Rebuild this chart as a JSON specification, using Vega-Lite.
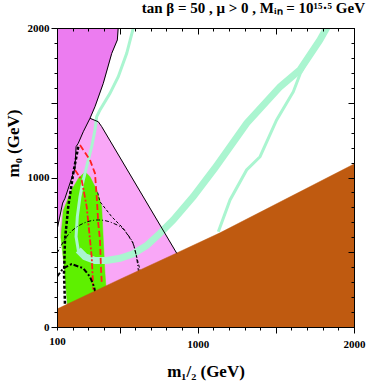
{
  "$schema": "https://vega.github.io/schema/vega-lite/v6.json",
  "width": 297,
  "height": 299,
  "autosize": "none",
  "padding": {"left": 57, "top": 28, "right": 12, "bottom": 55},
  "background": "white",
  "title": {"text": "tan β = 50 ,  μ > 0 , Mᵢₙ = 10¹⁵·⁵ GeV", "anchor": "end", "font": "Liberation Serif", "fontSize": 15, "fontWeight": "bold", "color": "black", "offset": 6},
  "config": {
    "view": {"stroke": "black", "strokeWidth": 1},
    "axis": {"domainColor": "black", "tickColor": "black", "labelColor": "black", "titleColor": "black", "labelFont": "Liberation Serif", "titleFont": "Liberation Serif", "labelFontWeight": "bold", "titleFontWeight": "bold", "labelFontSize": 11, "titleFontSize": 17, "grid": false, "tickWidth": 1, "domainWidth": 1}
  },
  "data": {"values": [
    {"s":"magenta","i":0,"x":100,"y":2000},{"s":"magenta","i":1,"x":492,"y":2000},{"s":"magenta","i":2,"x":486,"y":1920},{"s":"magenta","i":3,"x":450,"y":1830},{"s":"magenta","i":4,"x":396,"y":1630},{"s":"magenta","i":5,"x":343,"y":1474},{"s":"magenta","i":6,"x":311,"y":1396},{"s":"magenta","i":7,"x":268,"y":1306},{"s":"magenta","i":8,"x":236,"y":1229},{"s":"magenta","i":9,"x":222,"y":1206},{"s":"magenta","i":10,"x":215,"y":1062},{"s":"magenta","i":11,"x":151,"y":861},{"s":"magenta","i":12,"x":136,"y":829},{"s":"magenta","i":13,"x":100,"y":649},
    {"s":"pink","i":0,"x":311,"y":1396},{"s":"pink","i":1,"x":364,"y":1373},{"s":"pink","i":2,"x":386,"y":1340},{"s":"pink","i":3,"x":866,"y":493},{"s":"pink","i":4,"x":880,"y":400},{"s":"pink","i":5,"x":420,"y":200},{"s":"pink","i":6,"x":170,"y":100},{"s":"pink","i":7,"x":145,"y":415},{"s":"pink","i":8,"x":119,"y":649},{"s":"pink","i":9,"x":136,"y":829},{"s":"pink","i":10,"x":151,"y":861},{"s":"pink","i":11,"x":215,"y":1062},{"s":"pink","i":12,"x":222,"y":1206},{"s":"pink","i":13,"x":236,"y":1229},{"s":"pink","i":14,"x":268,"y":1306},
    {"s":"green","i":0,"x":279,"y":1039},{"s":"green","i":1,"x":311,"y":1005},{"s":"green","i":2,"x":354,"y":916},{"s":"green","i":3,"x":386,"y":805},{"s":"green","i":4,"x":396,"y":582},{"s":"green","i":5,"x":407,"y":359},{"s":"green","i":6,"x":418,"y":200},{"s":"green","i":7,"x":170,"y":100},{"s":"green","i":8,"x":145,"y":415},{"s":"green","i":9,"x":125,"y":600},{"s":"green","i":10,"x":140,"y":780},{"s":"green","i":11,"x":190,"y":910},{"s":"green","i":12,"x":240,"y":1000},
    {"s":"brown","i":0,"x":100,"y":0},{"s":"brown","i":1,"x":100,"y":120},{"s":"brown","i":2,"x":500,"y":318},{"s":"brown","i":3,"x":866,"y":495},{"s":"brown","i":4,"x":1143,"y":630},{"s":"brown","i":5,"x":2000,"y":1090},{"s":"brown","i":6,"x":2000,"y":0},
    {"s":"cyanThin","i":0,"x":588,"y":2000},{"s":"cyanThin","i":1,"x":546,"y":1831},{"s":"cyanThin","i":2,"x":492,"y":1674},{"s":"cyanThin","i":3,"x":439,"y":1563},{"s":"cyanThin","i":4,"x":375,"y":1452},{"s":"cyanThin","i":5,"x":354,"y":1407},{"s":"cyanThin","i":6,"x":343,"y":1318},{"s":"cyanThin","i":7,"x":322,"y":1206},{"s":"cyanThin","i":8,"x":300,"y":1117},{"s":"cyanThin","i":9,"x":268,"y":983},{"s":"cyanThin","i":10,"x":247,"y":872},{"s":"cyanThin","i":11,"x":230,"y":738},{"s":"cyanThin","i":12,"x":222,"y":604},{"s":"cyanThin","i":13,"x":236,"y":515},{"s":"cyanThin","i":14,"x":279,"y":470},
    {"s":"cyanBand","i":0,"x":236,"y":515},{"s":"cyanBand","i":1,"x":279,"y":470},{"s":"cyanBand","i":2,"x":343,"y":445},{"s":"cyanBand","i":3,"x":418,"y":445},{"s":"cyanBand","i":4,"x":503,"y":460},{"s":"cyanBand","i":5,"x":588,"y":490},{"s":"cyanBand","i":6,"x":674,"y":545},{"s":"cyanBand","i":7,"x":759,"y":627},{"s":"cyanBand","i":8,"x":844,"y":716},{"s":"cyanBand","i":9,"x":972,"y":872},{"s":"cyanBand","i":10,"x":1111,"y":1064},{"s":"cyanBand","i":11,"x":1314,"y":1363},{"s":"cyanBand","i":12,"x":1527,"y":1607},{"s":"cyanBand","i":13,"x":1654,"y":1719},{"s":"cyanBand","i":14,"x":1782,"y":1920},{"s":"cyanBand","i":15,"x":1830,"y":2010},
    {"s":"cyan2","i":0,"x":1132,"y":637},{"s":"cyan2","i":1,"x":1207,"y":850},{"s":"cyan2","i":2,"x":1313,"y":1050},{"s":"cyan2","i":3,"x":1399,"y":1139},{"s":"cyan2","i":4,"x":1505,"y":1385},{"s":"cyan2","i":5,"x":1612,"y":1574},{"s":"cyan2","i":6,"x":1654,"y":1690},{"s":"cyan2","i":7,"x":1690,"y":1760},
    {"s":"redA","i":0,"x":247,"y":1217},{"s":"redA","i":1,"x":311,"y":1117},{"s":"redA","i":2,"x":343,"y":1028},{"s":"redA","i":3,"x":354,"y":872},{"s":"redA","i":4,"x":364,"y":694},{"s":"redA","i":5,"x":375,"y":582},{"s":"redA","i":6,"x":381,"y":403},{"s":"redA","i":7,"x":386,"y":300},
    {"s":"redB","i":0,"x":215,"y":1050},{"s":"redB","i":1,"x":258,"y":983},{"s":"redB","i":2,"x":290,"y":805},{"s":"redB","i":3,"x":307,"y":627},{"s":"redB","i":4,"x":322,"y":470},{"s":"redB","i":5,"x":332,"y":250},
    {"s":"blkDot","i":0,"x":236,"y":1206},{"s":"blkDot","i":1,"x":204,"y":1028},{"s":"blkDot","i":2,"x":172,"y":805},{"s":"blkDot","i":3,"x":151,"y":582},{"s":"blkDot","i":4,"x":145,"y":359},{"s":"blkDot","i":5,"x":151,"y":150},
    {"s":"blkArc","i":0,"x":100,"y":493},{"s":"blkArc","i":1,"x":162,"y":604},{"s":"blkArc","i":2,"x":247,"y":682},{"s":"blkArc","i":3,"x":364,"y":716},{"s":"blkArc","i":4,"x":460,"y":694},{"s":"blkArc","i":5,"x":546,"y":627},{"s":"blkArc","i":6,"x":599,"y":515},{"s":"blkArc","i":7,"x":620,"y":381},{"s":"blkArc","i":8,"x":625,"y":330},
    {"s":"blkDash","i":0,"x":360,"y":900},{"s":"blkDash","i":1,"x":375,"y":838},{"s":"blkDash","i":2,"x":450,"y":738},{"s":"blkDash","i":3,"x":524,"y":660},{"s":"blkDash","i":4,"x":588,"y":560},{"s":"blkDash","i":5,"x":631,"y":381},{"s":"blkDash","i":6,"x":640,"y":330},
    {"s":"blkSmall","i":0,"x":100,"y":336},{"s":"blkSmall","i":1,"x":140,"y":393},{"s":"blkSmall","i":2,"x":194,"y":421},{"s":"blkSmall","i":3,"x":268,"y":393},{"s":"blkSmall","i":4,"x":311,"y":336},{"s":"blkSmall","i":5,"x":337,"y":270},{"s":"blkSmall","i":6,"x":345,"y":230},
    {"s":"edgeMag","i":0,"x":492,"y":2010},{"s":"edgeMag","i":1,"x":486,"y":1920},{"s":"edgeMag","i":2,"x":450,"y":1830},{"s":"edgeMag","i":3,"x":396,"y":1630},{"s":"edgeMag","i":4,"x":343,"y":1474},{"s":"edgeMag","i":5,"x":311,"y":1396},{"s":"edgeMag","i":6,"x":268,"y":1306},{"s":"edgeMag","i":7,"x":236,"y":1229},{"s":"edgeMag","i":8,"x":222,"y":1206},{"s":"edgeMag","i":9,"x":215,"y":1062},{"s":"edgeMag","i":10,"x":151,"y":861},{"s":"edgeMag","i":11,"x":136,"y":829},{"s":"edgeMag","i":12,"x":100,"y":649},
    {"s":"edgePink","i":0,"x":311,"y":1396},{"s":"edgePink","i":1,"x":364,"y":1373},{"s":"edgePink","i":2,"x":386,"y":1340},{"s":"edgePink","i":3,"x":866,"y":493}
  ]},
  "encoding": {
    "x": {"field": "x", "type": "quantitative", "scale": {"domain": [100, 2000], "nice": false, "zero": false}, "axis": null},
    "y": {"field": "y", "type": "quantitative", "scale": {"domain": [0, 2000], "nice": false, "zero": false}, "axis": null},
    "order": {"field": "i", "type": "quantitative"}
  },
  "layer": [
    {
      "transform": [{"filter": "datum.s === 'pink'"}],
      "mark": {"type": "line", "fill": "#f9a7f7", "stroke": "#f9a7f7", "strokeWidth": 0.5, "clip": true},
      "encoding": {
        "x": {"field": "x", "type": "quantitative", "scale": {"domain": [100, 2000], "nice": false, "zero": false},
          "axis": {"orient": "bottom", "zindex": 1, "values": [100,200,300,400,500,600,700,800,900,1000,1100,1200,1300,1400,1500,1600,1700,1800,1900,2000], "format": "d", "labelExpr": "(datum.value == 100 || datum.value == 1000 || datum.value == 2000) ? datum.label : ''", "tickSize": {"condition": {"test": "datum.value % 500 == 0", "value": 6}, "value": 3}, "labelPadding": 5, "labelFlush": false, "title": "m₁/₂ (GeV)", "titlePadding": 14}},
        "y": {"field": "y", "type": "quantitative", "scale": {"domain": [0, 2000], "nice": false, "zero": false},
          "axis": {"orient": "left", "zindex": 1, "values": [0,100,200,300,400,500,600,700,800,900,1000,1100,1200,1300,1400,1500,1600,1700,1800,1900,2000], "format": "d", "labelExpr": "datum.value % 1000 == 0 ? datum.label : ''", "tickSize": {"condition": {"test": "datum.value % 500 == 0", "value": 6}, "value": 3}, "labelPadding": 2, "labelFlush": false, "title": "m₀ (GeV)", "titlePadding": 5, "titleY": 115}}
      }
    },
    {
      "transform": [{"filter": "datum.s === 'magenta'"}],
      "mark": {"type": "line", "fill": "#ec7cf0", "stroke": "#ec7cf0", "strokeWidth": 0.5, "clip": true},
      "encoding": {
        "x": {"field": "x", "type": "quantitative", "scale": {"domain": [100, 2000], "nice": false, "zero": false},
          "axis": {"orient": "top", "zindex": 1, "values": [100,200,300,400,500,600,700,800,900,1000,1100,1200,1300,1400,1500,1600,1700,1800,1900,2000], "labels": false, "tickSize": {"condition": {"test": "datum.value % 500 == 0", "value": -6}, "value": -3}, "title": null}},
        "y": {"field": "y", "type": "quantitative", "scale": {"domain": [0, 2000], "nice": false, "zero": false},
          "axis": {"orient": "right", "zindex": 1, "values": [0,100,200,300,400,500,600,700,800,900,1000,1100,1200,1300,1400,1500,1600,1700,1800,1900,2000], "labels": false, "tickSize": {"condition": {"test": "datum.value % 500 == 0", "value": -6}, "value": -3}, "title": null}}
      }
    },
    {
      "transform": [{"filter": "datum.s === 'green'"}],
      "mark": {"type": "line", "fill": "#5ef000", "stroke": "#5ef000", "strokeWidth": 0.5, "clip": true}
    },
    {
      "transform": [{"filter": "datum.s === 'cyanThin'"}],
      "mark": {"type": "line", "stroke": "#aaf5d0", "strokeWidth": 3, "clip": true}
    },
    {
      "transform": [{"filter": "datum.s === 'cyanBand'"}],
      "mark": {"type": "line", "stroke": "#aaf5d0", "strokeWidth": 7, "clip": true}
    },
    {
      "transform": [{"filter": "datum.s === 'cyan2'"}],
      "mark": {"type": "line", "stroke": "#aaf5d0", "strokeWidth": 3, "clip": true}
    },
    {
      "transform": [{"filter": "datum.s === 'redA'"}],
      "mark": {"type": "line", "stroke": "#ff2020", "strokeWidth": 1.8, "strokeDash": [6, 3], "clip": true}
    },
    {
      "transform": [{"filter": "datum.s === 'redB'"}],
      "mark": {"type": "line", "stroke": "#ff2020", "strokeWidth": 1.8, "strokeDash": [6, 2, 2, 2], "clip": true}
    },
    {
      "transform": [{"filter": "datum.s === 'blkDot'"}],
      "mark": {"type": "line", "stroke": "black", "strokeWidth": 2.5, "strokeDash": [3, 2], "clip": true}
    },
    {
      "transform": [{"filter": "datum.s === 'blkArc'"}],
      "mark": {"type": "line", "stroke": "black", "strokeWidth": 1, "strokeDash": [4, 2, 1, 2], "interpolate": "monotone", "clip": true}
    },
    {
      "transform": [{"filter": "datum.s === 'blkDash'"}],
      "mark": {"type": "line", "stroke": "black", "strokeWidth": 1, "strokeDash": [3, 2], "clip": true}
    },
    {
      "transform": [{"filter": "datum.s === 'blkSmall'"}],
      "mark": {"type": "line", "stroke": "black", "strokeWidth": 2, "strokeDash": [5, 2, 2, 2], "clip": true}
    },
    {
      "transform": [{"filter": "datum.s === 'brown'"}],
      "mark": {"type": "line", "fill": "#bf5a10", "stroke": "#bf5a10", "strokeWidth": 0.5, "clip": true}
    },
    {
      "transform": [{"filter": "datum.s === 'edgeMag'"}],
      "mark": {"type": "line", "stroke": "black", "strokeWidth": 1, "clip": true}
    },
    {
      "transform": [{"filter": "datum.s === 'edgePink'"}],
      "mark": {"type": "line", "stroke": "black", "strokeWidth": 1, "clip": true}
    }
  ],
  "resolve": {"axis": {"x": "independent", "y": "independent"}}
}
